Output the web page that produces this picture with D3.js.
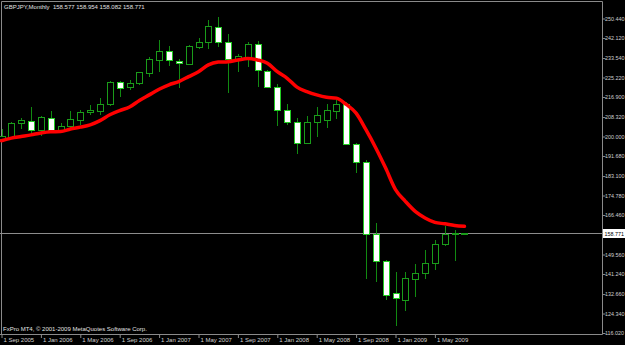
<!DOCTYPE html>
<html>
<head>
<meta charset="utf-8">
<script src="https://cdn.jsdelivr.net/npm/d3@7"></script>
<style>
  html, body { margin: 0; padding: 0; background: #000; }
  svg { display: block; }
</style>
</head>
<body>
<svg id="chart"></svg>
<script>
// monthly GBPJPY bars, Sep 2005 .. Aug 2009
var months = ["Sep 2005","Oct 2005","Nov 2005","Dec 2005","Jan 2006","Feb 2006","Mar 2006","Apr 2006",
  "May 2006","Jun 2006","Jul 2006","Aug 2006","Sep 2006","Oct 2006","Nov 2006","Dec 2006",
  "Jan 2007","Feb 2007","Mar 2007","Apr 2007","May 2007","Jun 2007","Jul 2007","Aug 2007",
  "Sep 2007","Oct 2007","Nov 2007","Dec 2007","Jan 2008","Feb 2008","Mar 2008","Apr 2008",
  "May 2008","Jun 2008","Jul 2008","Aug 2008","Sep 2008","Oct 2008","Nov 2008","Dec 2008",
  "Jan 2009","Feb 2009","Mar 2009","Apr 2009","May 2009","Jun 2009","Jul 2009","Aug 2009"];
var opens  = [198.9,199.7,205.7,206.8,202.6,208.1,202.9,204.3,207.1,210.4,210.7,214.0,223.5,221.1,222.8,227.3,
  232.7,236.7,232.4,230.9,238.4,240.5,246.7,240.5,233.3,234.1,239.6,228.0,221.3,211.4,206.0,197.4,
  206.1,207.1,211.1,214.0,196.8,188.9,158.5,146.7,133.2,130.3,139.1,141.7,146.0,154.1,158.4,158.577];
var highs  = [203.3,206.3,208.1,212.5,208.8,211.0,205.7,210.7,211.4,213.5,216.4,223.9,223.8,224.2,227.7,234.1,
  241.3,238.7,233.0,239.1,242.0,249.8,251.0,243.8,235.3,240.4,241.0,228.5,222.5,213.8,207.9,208.8,
  212.7,213.8,215.4,214.9,197.4,190.1,163.1,147.4,142.0,142.0,145.3,151.7,155.9,161.9,160.2,158.954];
var lows   = [198.6,199.4,203.2,201.5,200.3,202.1,202.1,203.6,205.0,209.3,209.3,213.1,217.1,219.9,222.1,225.3,
  227.7,230.2,220.7,230.6,237.3,237.3,238.2,218.8,227.7,229.9,221.1,220.8,204.3,205.0,192.5,196.8,
  199.6,203.6,207.6,196.5,184.4,138.9,137.7,130.0,118.8,125.3,131.5,138.9,142.8,153.1,146.7,158.082];
var closes = [200.3,205.7,207.1,202.9,208.3,202.9,204.3,207.4,210.4,211.4,214.0,223.5,220.7,223.0,227.5,233.0,
  236.7,232.7,231.6,238.7,240.5,247.2,240.5,233.0,234.4,239.6,228.5,221.3,211.4,206.1,197.4,206.1,
  209.0,211.4,214.0,196.8,188.9,158.4,146.7,132.3,130.9,139.6,141.7,146.0,154.2,158.5,158.58,158.771];
// red moving average line
var maValues = [198.2,199.3,200.0,200.7,201.5,202.0,202.1,203.2,204.0,205.0,206.8,209.3,211.1,212.6,215.4,217.8,
  220.2,222.1,223.5,225.6,227.7,230.6,231.8,232.0,232.7,233.3,232.7,231.3,227.7,224.9,221.1,219.2,
  217.8,216.8,216.4,213.7,210.0,202.9,195.1,186.5,177.3,172.3,168.0,165.2,163.3,162.7,162.0,161.6];

var yTicks = [250.440,242.120,233.540,225.220,216.900,208.320,200.000,191.680,183.100,174.780,166.460,
  149.560,141.240,132.660,124.340,116.020];
var xTicks = ["Sep 2005","Jan 2006","May 2006","Sep 2006","Jan 2007","May 2007","Sep 2007","Jan 2008",
  "May 2008","Sep 2008","Jan 2009","May 2009"];
var title = "GBPJPY,Monthly  158.577 158.954 158.082 158.771";
var lastPrice = 158.771;

var width = 625, height = 345;
var plotRight = 602, plotBottom = 334;
var font = "'Liberation Sans', Arial, sans-serif";

var svg = d3.select("#chart").attr("width", width).attr("height", height);
svg.append("rect").attr("width", width).attr("height", height).attr("fill", "#000");

var x = d3.scalePoint().domain(months).range([1.5, 464.45]);
var y = d3.scaleLinear().domain([116.02, 250.44]).range([333, 18.5]);

var bars = months.map(function(m, i) {
  return {m: m, o: opens[i], h: highs[i], l: lows[i], c: closes[i]};
});

// frame
svg.append("path")
  .attr("d", "M1.5," + plotBottom + ".5V1.5H" + plotRight + ".5V" + plotBottom + ".5H0")
  .attr("fill", "none").attr("stroke", "#8a8a8a");

// current price line
svg.append("line")
  .attr("x1", 0).attr("x2", plotRight)
  .attr("y1", Math.round(y(lastPrice)) + 0.5).attr("y2", Math.round(y(lastPrice)) + 0.5)
  .attr("stroke", "#8c8c8c");

// candles
var candle = svg.append("g").selectAll("g").data(bars).enter().append("g");
candle.append("line")
  .attr("x1", function(d) { return Math.round(x(d.m)) + 0.5; })
  .attr("x2", function(d) { return Math.round(x(d.m)) + 0.5; })
  .attr("y1", function(d) { return Math.round(y(d.h)); })
  .attr("y2", function(d) { return Math.round(y(d.l)); })
  .attr("stroke", "#118a11");
candle.append("rect")
  .attr("x", function(d) { return Math.round(x(d.m)) - 2.5; })
  .attr("width", 6)
  .attr("y", function(d) { return Math.round(y(Math.max(d.o, d.c))) + 0.5; })
  .attr("height", function(d) { return Math.max(1, Math.round(y(Math.min(d.o, d.c))) - Math.round(y(Math.max(d.o, d.c)))); })
  .attr("fill", function(d) { return d.c >= d.o ? "#000" : "#fff"; })
  .attr("stroke", function(d) { return d.c >= d.o ? "#1a9c1a" : "#22cc22"; });

// moving average
var line = d3.line()
  .x(function(d, i) { return x(months[i]); })
  .y(function(d) { return y(d); })
  .curve(d3.curveMonotoneX);
svg.append("path").datum(maValues)
  .attr("d", line)
  .attr("fill", "none").attr("stroke", "#ff0000")
  .attr("stroke-width", 3.5)
  .attr("stroke-linejoin", "round").attr("stroke-linecap", "round");

// y axis
var yAxis = d3.axisRight(y).tickValues(yTicks).tickSize(3).tickPadding(0).tickFormat(d3.format(".3f"));
var gy = svg.append("g").attr("transform", "translate(" + plotRight + ",0)").call(yAxis);
gy.select(".domain").remove();
gy.selectAll("line").attr("stroke", "#8a8a8a").attr("transform", "translate(0.5,0)");
gy.selectAll("text").attr("fill", "#d0d0d0").attr("font-family", font).attr("font-size", 5.4);

// x axis
var xAxis = d3.axisBottom(x).tickValues(xTicks).tickSize(4).tickPadding(0).tickFormat(function(d) { return "1 " + d; });
var gx = svg.append("g").attr("transform", "translate(0," + plotBottom + ")").call(xAxis);
gx.select(".domain").remove();
gx.selectAll("line").attr("stroke", "#8a8a8a");
gx.selectAll("text").attr("fill", "#d0d0d0").attr("font-family", font).attr("font-size", 6)
  .attr("text-anchor", "start").attr("x", 1.5);

// last price label
var py = Math.round(y(lastPrice));
svg.append("rect").attr("x", plotRight + 1).attr("y", py - 4).attr("width", 22).attr("height", 9).attr("fill", "#fff");
svg.append("text").attr("x", plotRight + 2.5).attr("y", py + 2.5)
  .attr("font-family", font).attr("font-size", 5.4).attr("fill", "#000")
  .text(d3.format(".3f")(lastPrice));

// texts
svg.append("text").attr("x", 4).attr("y", 9)
  .attr("font-family", font).attr("font-size", 6).attr("fill", "#e0e0e0")
  .attr("xml:space", "preserve").style("white-space", "pre")
  .text(title);
svg.append("text").attr("x", 3).attr("y", 330.5)
  .attr("font-family", font).attr("font-size", 6).attr("fill", "#e0e0e0")
  .text("FxPro MT4, \u00a9 2001-2009 MetaQuotes Software Corp.");
</script>
</body>
</html>
